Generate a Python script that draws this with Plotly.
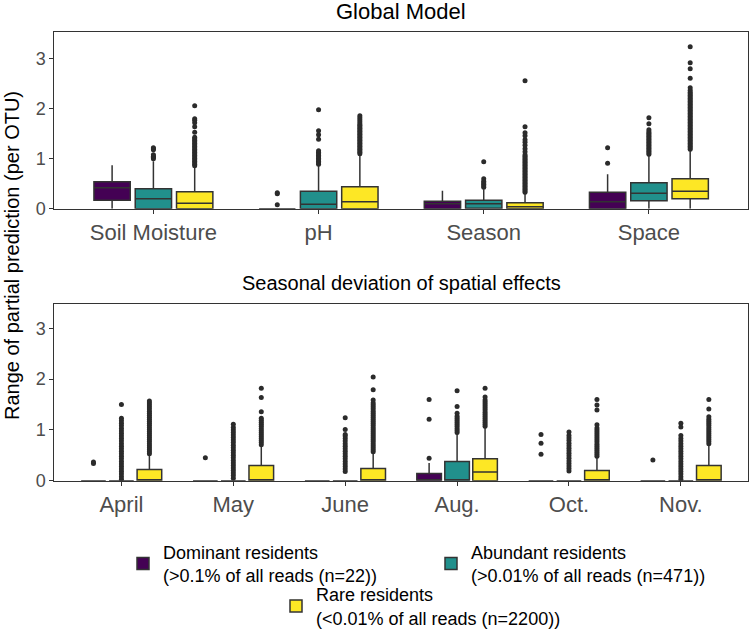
import plotly.graph_objects as go

# ---------------- data ----------------
top_categories = ["Soil Moisture", "pH", "Season", "Space"]
bottom_categories = ["April", "May", "June", "Aug.", "Oct.", "Nov."]

group_names = [
    "Dominant residents<br>(>0.1% of all reads (n=22))",
    "Abundant residents<br>(>0.01% of all reads (n=471))",
    "Rare residents<br>(<0.01% of all reads (n=2200))",
]
group_colors = ["#440154", "#21908C", "#FDE725"]

# Global model panel: box statistics per category
top_dom_q1 = [0.17, 0.0, 0.0, 0.0]
top_dom_med = [0.42, 0.0, 0.10, 0.14]
top_dom_q3 = [0.54, 0.0, 0.15, 0.33]
top_dom_lo = [0.0, 0.0, 0.0, 0.0]
top_dom_hi = [0.87, 0.0, 0.36, 0.69]
top_dom_out = [[], [0.08, 0.30, 0.32], [], [0.91, 1.22]]

top_abu_q1 = [0.0, 0.0, 0.01, 0.16]
top_abu_med = [0.20, 0.09, 0.10, 0.31]
top_abu_q3 = [0.40, 0.35, 0.17, 0.52]
top_abu_lo = [0.0, 0.0, 0.0, 0.0]
top_abu_hi = [0.95, 0.87, 0.39, 1.07]
top_abu_out = [
    [1.00, 1.03, 1.05, 1.08, 1.18, 1.20, 1.22],
    [0.89, 0.92, 0.95, 0.98, 1.01, 1.04, 1.07, 1.10, 1.13, 1.16, 1.39, 1.48, 1.56, 1.98],
    [0.43, 0.46, 0.49, 0.52, 0.55, 0.60, 0.94],
    [1.09, 1.12, 1.15, 1.18, 1.21, 1.24, 1.27, 1.30, 1.33, 1.36, 1.39, 1.42, 1.45,
     1.48, 1.51, 1.54, 1.58, 1.70, 1.82],
]

top_rar_q1 = [0.0, 0.0, 0.0, 0.20]
top_rar_med = [0.11, 0.14, 0.04, 0.35]
top_rar_q3 = [0.34, 0.44, 0.12, 0.60]
top_rar_lo = [0.0, 0.0, 0.0, 0.0]
top_rar_hi = [0.84, 1.08, 0.31, 1.18]
top_rar_out = [
    [0.86, 0.89, 0.92, 0.95, 0.98, 1.01, 1.04, 1.07, 1.10, 1.13, 1.16, 1.19, 1.22,
     1.25, 1.28, 1.31, 1.34, 1.37, 1.40, 1.43, 1.53, 1.64, 1.72, 1.77, 1.80, 2.06],
    [1.10, 1.13, 1.16, 1.19, 1.22, 1.25, 1.28, 1.31, 1.34, 1.37, 1.40, 1.43, 1.46,
     1.49, 1.52, 1.55, 1.58, 1.61, 1.64, 1.67, 1.70, 1.74, 1.78, 1.82, 1.86],
    [0.33, 0.36, 0.39, 0.42, 0.45, 0.48, 0.51, 0.54, 0.57, 0.60, 0.63, 0.66, 0.69,
     0.72, 0.75, 0.78, 0.81, 0.84, 0.87, 0.90, 0.93, 0.96, 0.99, 1.02, 1.05, 1.08,
     1.14, 1.20, 1.27, 1.33, 1.38, 1.46, 1.52, 1.64, 2.56],
    [1.19, 1.22, 1.25, 1.28, 1.31, 1.34, 1.37, 1.40, 1.43, 1.46, 1.49, 1.52, 1.55,
     1.58, 1.61, 1.64, 1.67, 1.70, 1.73, 1.76, 1.79, 1.82, 1.85, 1.88, 1.91, 1.94,
     1.97, 2.00, 2.03, 2.06, 2.09, 2.12, 2.15, 2.18, 2.21, 2.24, 2.27, 2.30, 2.33,
     2.37, 2.42, 2.61, 2.80, 2.92, 3.24],
]

# Seasonal deviation panel
bot_dom_q1 = [0.0, 0.0, 0.0, 0.0, 0.0, 0.0]
bot_dom_med = [0.0, 0.0, 0.0, 0.0, 0.0, 0.0]
bot_dom_q3 = [0.0, 0.0, 0.0, 0.14, 0.0, 0.0]
bot_dom_lo = [0.0, 0.0, 0.0, 0.0, 0.0, 0.0]
bot_dom_hi = [0.0, 0.0, 0.0, 0.35, 0.0, 0.0]
bot_dom_out = [[0.34, 0.37], [0.45], [], [0.44, 1.21, 1.60], [0.52, 0.74, 0.91], [0.41]]

bot_abu_q1 = [0.0, 0.0, 0.0, 0.0, 0.0, 0.0]
bot_abu_med = [0.0, 0.0, 0.0, 0.0, 0.0, 0.0]
bot_abu_q3 = [0.0, 0.0, 0.0, 0.38, 0.0, 0.0]
bot_abu_lo = [0.0, 0.0, 0.0, 0.0, 0.0, 0.0]
bot_abu_hi = [0.0, 0.0, 0.0, 0.93, 0.0, 0.0]
bot_abu_out = [
    [0.03, 0.08, 0.13, 0.18, 0.23, 0.28, 0.33, 0.38, 0.43, 0.48, 0.53, 0.58, 0.63,
     0.68, 0.73, 0.78, 0.83, 0.88, 0.93, 0.98, 1.03, 1.08, 1.13, 1.18, 1.23, 1.50],
    [0.05, 0.10, 0.15, 0.20, 0.25, 0.30, 0.35, 0.40, 0.45, 0.50, 0.55, 0.60, 0.65,
     0.70, 0.75, 0.80, 0.85, 0.90, 0.95, 1.00, 1.05, 1.11],
    [0.18, 0.23, 0.28, 0.33, 0.38, 0.43, 0.48, 0.53, 0.58, 0.63, 0.68, 0.73, 0.78,
     0.83, 0.88, 0.91, 1.01, 1.24],
    [0.95, 0.99, 1.03, 1.07, 1.11, 1.15, 1.19, 1.23, 1.27, 1.33, 1.46, 1.77],
    [0.19, 0.24, 0.29, 0.34, 0.39, 0.44, 0.49, 0.54, 0.59, 0.64, 0.69, 0.74, 0.79,
     0.84, 0.89, 0.96],
    [0.03, 0.08, 0.13, 0.18, 0.23, 0.28, 0.33, 0.38, 0.43, 0.48, 0.53, 0.58, 0.63,
     0.68, 0.73, 0.78, 0.83, 0.89, 1.06, 1.13],
]

bot_rar_q1 = [0.0, 0.0, 0.0, 0.0, 0.0, 0.0]
bot_rar_med = [0.0, 0.0, 0.0, 0.17, 0.0, 0.0]
bot_rar_q3 = [0.22, 0.30, 0.24, 0.43, 0.20, 0.30]
bot_rar_lo = [0.0, 0.0, 0.0, 0.0, 0.0, 0.0]
bot_rar_hi = [0.52, 0.70, 0.56, 1.06, 0.47, 0.72]
bot_rar_out = [
    [0.53, 0.57, 0.61, 0.65, 0.69, 0.73, 0.77, 0.81, 0.85, 0.89, 0.93, 0.97, 1.01,
     1.05, 1.09, 1.13, 1.17, 1.21, 1.25, 1.29, 1.33, 1.37, 1.41, 1.45, 1.49, 1.53, 1.57],
    [0.71, 0.75, 0.79, 0.83, 0.87, 0.91, 0.95, 0.99, 1.03, 1.07, 1.11, 1.15, 1.19,
     1.23, 1.36, 1.64, 1.82],
    [0.57, 0.61, 0.65, 0.69, 0.73, 0.77, 0.81, 0.85, 0.89, 0.93, 0.97, 1.01, 1.05,
     1.09, 1.13, 1.17, 1.21, 1.25, 1.29, 1.33, 1.37, 1.41, 1.45, 1.49, 1.53, 1.59,
     1.79, 2.04],
    [1.07, 1.11, 1.15, 1.19, 1.23, 1.27, 1.31, 1.35, 1.39, 1.43, 1.47, 1.51, 1.55,
     1.59, 1.65, 1.82],
    [0.48, 0.52, 0.56, 0.60, 0.64, 0.68, 0.72, 0.76, 0.80, 0.84, 0.88, 0.92, 0.96,
     1.00, 1.04, 1.10, 1.39, 1.49, 1.60],
    [0.73, 0.77, 0.81, 0.85, 0.89, 0.93, 0.97, 1.01, 1.05, 1.09, 1.13, 1.17, 1.21,
     1.26, 1.41, 1.60],
]

# ---------------- figure ----------------
FONT = "Arial, Liberation Sans, sans-serif"
offsets = [-0.25, 0.0, 0.25]
LINE = "#333333"

panels = [
    dict(cats=top_categories, xa="x", ya="y", groups=[
        (top_dom_q1, top_dom_med, top_dom_q3, top_dom_lo, top_dom_hi, top_dom_out),
        (top_abu_q1, top_abu_med, top_abu_q3, top_abu_lo, top_abu_hi, top_abu_out),
        (top_rar_q1, top_rar_med, top_rar_q3, top_rar_lo, top_rar_hi, top_rar_out),
    ]),
    dict(cats=bottom_categories, xa="x2", ya="y2", groups=[
        (bot_dom_q1, bot_dom_med, bot_dom_q3, bot_dom_lo, bot_dom_hi, bot_dom_out),
        (bot_abu_q1, bot_abu_med, bot_abu_q3, bot_abu_lo, bot_abu_hi, bot_abu_out),
        (bot_rar_q1, bot_rar_med, bot_rar_q3, bot_rar_lo, bot_rar_hi, bot_rar_out),
    ]),
]

fig = go.Figure()
for pi, p in enumerate(panels):
    n = len(p["cats"])
    for gi, (q1, med, q3, lo, hi, out) in enumerate(p["groups"]):
        pos = [i + offsets[gi] for i in range(n)]
        fig.add_trace(go.Box(
            x=pos, q1=q1, median=med, q3=q3, lowerfence=lo, upperfence=hi,
            orientation="v", width=0.22, whiskerwidth=0, boxpoints=False,
            fillcolor=group_colors[gi], line=dict(color=LINE, width=1.5),
            name=group_names[gi], showlegend=(pi == 0),
            legend="legend" if gi < 2 else "legend2",
            xaxis=p["xa"], yaxis=p["ya"], hoverinfo="skip",
        ))
        ox, oy = [], []
        for i, vals in enumerate(out):
            for v in vals:
                ox.append(i + offsets[gi])
                oy.append(v)
        fig.add_trace(go.Scatter(
            x=ox, y=oy, mode="markers", showlegend=False,
            marker=dict(color="#2b2b2b", size=5),
            xaxis=p["xa"], yaxis=p["ya"], hoverinfo="skip",
        ))

W, H = 751, 629
xl, xr = 54.3 / W, 748 / W
axis_common = dict(
    showline=True, linecolor=LINE, linewidth=1.1, mirror=True,
    showgrid=False, zeroline=False, ticks="outside", ticklen=4,
    tickcolor=LINE, tickwidth=1.1, automargin=False,
)
fig.update_layout(
    width=W, height=H,
    margin=dict(l=0, r=0, t=0, b=0, autoexpand=False),
    paper_bgcolor="white", plot_bgcolor="white",
    font=dict(family=FONT, color="black"),
    boxmode="overlay",
    xaxis=dict(domain=[xl, xr], range=[-0.6, 3.6], tickmode="array",
               tickvals=list(range(len(top_categories))), ticktext=top_categories,
               tickfont=dict(size=22, color="#4D4D4D"), anchor="y", **axis_common),
    yaxis=dict(domain=[1 - 208.8 / H, 1 - 31.7 / H], range=[0, 3.54],
               tickvals=[0, 1, 2, 3], tickfont=dict(size=18, color="#4D4D4D"),
               anchor="x", **axis_common),
    xaxis2=dict(domain=[xl, xr], range=[-0.6, 5.6], tickmode="array",
                tickvals=list(range(len(bottom_categories))), ticktext=bottom_categories,
                tickfont=dict(size=22, color="#4D4D4D"), anchor="y2", **axis_common),
    yaxis2=dict(domain=[1 - 480.7 / H, 1 - 304 / H], range=[0, 3.48],
                tickvals=[0, 1, 2, 3], tickfont=dict(size=18, color="#4D4D4D"),
                anchor="x2", **axis_common),
    legend=dict(orientation="h", x=123 / W, y=1 - 533.5 / H, xanchor="left", yanchor="top",
                font=dict(size=18, family=FONT), entrywidth=263, bgcolor="rgba(0,0,0,0)",
                valign="middle", tracegroupgap=0),
    legend2=dict(orientation="h", x=276 / W, y=1 - 576 / H, xanchor="left", yanchor="top",
                 font=dict(size=18, family=FONT), bgcolor="rgba(0,0,0,0)", valign="middle"),
    annotations=[
        dict(text="Global Model", x=(xl + xr) / 2, y=1 - 11.7 / H, xref="paper", yref="paper",
             showarrow=False, font=dict(size=22, color="black"), xanchor="center", yanchor="middle"),
        dict(text="Seasonal deviation of spatial effects", x=(xl + xr) / 2, y=1 - 283 / H,
             xref="paper", yref="paper", showarrow=False, font=dict(size=20, color="black"),
             xanchor="center", yanchor="middle"),
        dict(text="Range of partial prediction (per OTU)", x=12 / W, y=1 - 256 / H,
             xref="paper", yref="paper", showarrow=False, textangle=-90,
             font=dict(size=20, color="black"), xanchor="center", yanchor="middle"),
    ],
)

fig.write_html(
    "out.html",
    config={"displayModeBar": False},
    post_script="document.body.style.margin='0px';document.body.style.overflow='hidden';",
)
